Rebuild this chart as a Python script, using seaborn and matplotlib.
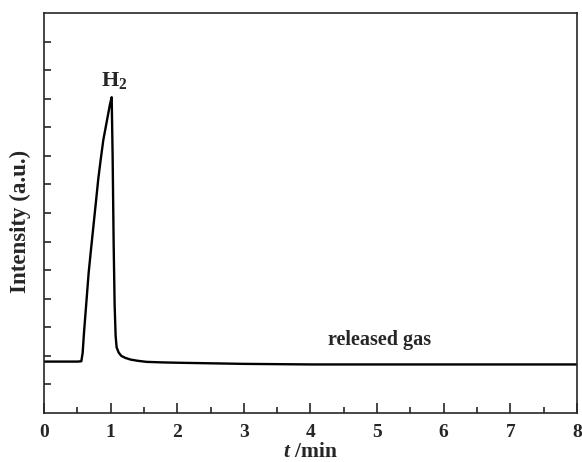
import numpy as np
import pandas as pd
import matplotlib
matplotlib.use('Agg')
import matplotlib.pyplot as plt
import seaborn as sns

# chromatogram of released gas
time_min = [0.0, 0.3, 0.5, 0.56, 0.58, 0.60, 0.62, 0.64, 0.67, 0.70, 0.74, 0.78, 0.815, 0.85,
            0.89, 0.93, 0.966, 0.99, 1.016, 1.03, 1.045, 1.06, 1.075, 1.09, 1.12, 1.16, 1.22,
            1.3, 1.4, 1.54, 1.8, 2.0, 2.5, 3.0, 4.0, 5.0, 6.0, 7.0, 8.0]
intensity = [1.80, 1.80, 1.80, 1.81, 2.1, 2.8, 3.4, 4.0, 4.9, 5.6, 6.5, 7.4, 8.2, 8.85,
             9.55, 10.05, 10.5, 10.8, 11.05, 9.0, 6.0, 3.8, 2.7, 2.3, 2.12, 2.0, 1.93,
             1.87, 1.83, 1.79, 1.77, 1.76, 1.74, 1.72, 1.70, 1.70, 1.70, 1.70, 1.70]
x_ticks = [0, 1, 2, 3, 4, 5, 6, 7, 8]
peak_label = r'$\mathbf{H_2}$'
gas_label = 'released gas'

df = pd.DataFrame({'t': time_min, 'I': intensity})

sns.set_style('ticks')
plt.rcParams['font.family'] = ['Liberation Serif', 'DejaVu Serif']
plt.rcParams['mathtext.fontset'] = 'custom'
plt.rcParams['mathtext.rm'] = 'Liberation Serif:bold'
plt.rcParams['mathtext.bf'] = 'Liberation Serif:bold'
plt.rcParams['mathtext.it'] = 'Liberation Serif:italic:bold'

fig = plt.figure(figsize=(5.82, 4.62), dpi=100)
ax = fig.add_axes([0.0756, 0.106, 0.9158, 0.866])

sns.lineplot(data=df, x='t', y='I', color='black', linewidth=1.7, ax=ax, estimator=None, sort=False)

ax.set_xlim(0, 8)
ax.set_ylim(0, 14)
ax.set_xticks(x_ticks)
ax.set_xticklabels([str(v) for v in x_ticks], fontsize=14, fontweight='bold')
ax.set_xticks(np.arange(0.5, 8, 1), minor=True)
ax.set_yticks(range(1, 14))
ax.set_yticklabels([])
ax.tick_params(axis='x', which='major', direction='in', length=7, width=1.2, pad=8)
ax.tick_params(axis='x', which='minor', direction='in', length=4, width=1.2)
ax.tick_params(axis='y', which='major', direction='in', length=5, width=1.2)
for s in ax.spines.values():
    s.set_linewidth(1.2)
    s.set_visible(True)

ax.set_xlabel(r'$t$ /min', fontsize=15.5, fontweight='bold')
ax.xaxis.set_label_coords(0.5, -0.073)
ax.set_ylabel('Intensity (a.u.)', fontsize=16.5, fontweight='bold')
ax.yaxis.set_label_coords(-0.024, 0.478)

ax.text(1.05, 11.45, peak_label, fontsize=16, ha='center', va='baseline')
ax.text(5.04, 2.55, gas_label, fontsize=14.5, fontweight='bold', ha='center', va='center')

fig.savefig('out.png', dpi=100)
